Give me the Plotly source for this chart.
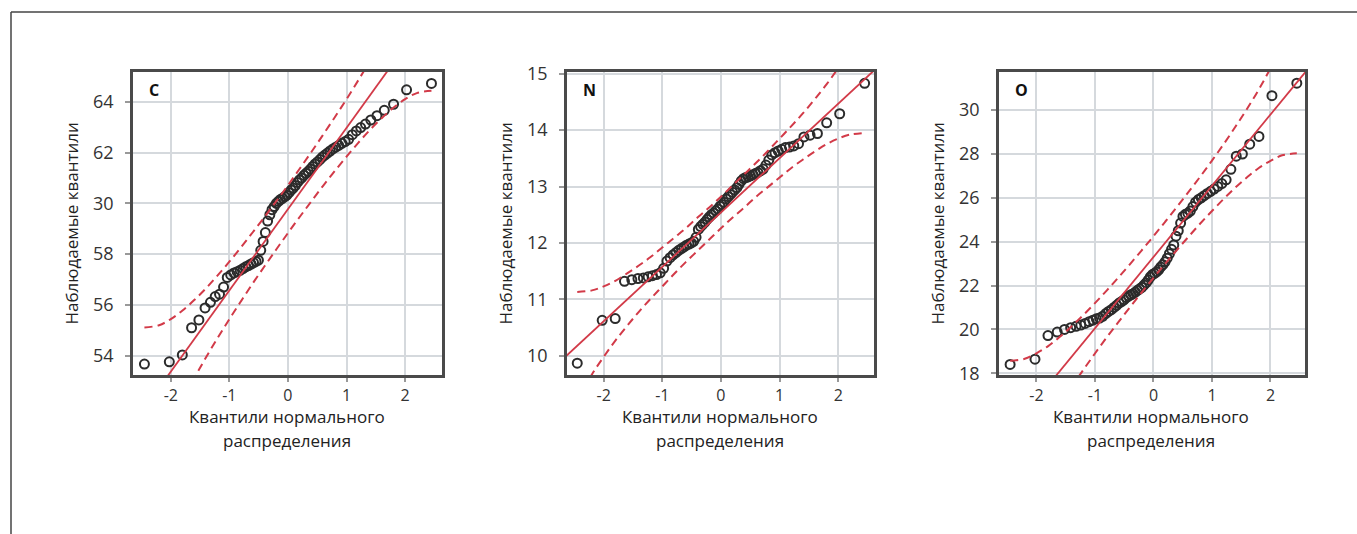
import plotly.graph_objects as go

W, H = 1357, 534

# Theoretical normal quantiles (n = 70)
q_norm = [-2.450, -2.025, -1.803, -1.645, -1.520, -1.415, -1.323, -1.242, -1.168, -1.099,
          -1.036, -0.977, -0.921, -0.867, -0.816, -0.767, -0.720, -0.674, -0.630, -0.587,
          -0.545, -0.504, -0.464, -0.424, -0.385, -0.347, -0.309, -0.272, -0.235, -0.198,
          -0.162, -0.126, -0.090, -0.054, -0.018, 0.018, 0.054, 0.090, 0.126, 0.162,
          0.198, 0.235, 0.272, 0.309, 0.347, 0.385, 0.424, 0.464, 0.504, 0.545,
          0.587, 0.630, 0.674, 0.720, 0.767, 0.816, 0.867, 0.921, 0.977, 1.036,
          1.099, 1.168, 1.242, 1.323, 1.415, 1.520, 1.645, 1.803, 2.025, 2.450]

obs_C = [53.67, 53.76, 54.03, 55.10, 55.41, 55.88, 56.10, 56.33, 56.42, 56.70,
         57.08, 57.18, 57.26, 57.31, 57.36, 57.43, 57.50, 57.55, 57.61, 57.66,
         57.71, 57.76, 58.15, 58.50, 58.85, 59.30, 59.55, 59.75, 59.87, 60.00,
         60.08, 60.15, 60.20, 60.26, 60.32, 60.42, 60.52, 60.60, 60.70, 60.82,
         60.92, 61.00, 61.10, 61.18, 61.26, 61.35, 61.45, 61.55, 61.63, 61.72,
         61.82, 61.90, 61.98, 62.06, 62.14, 62.21, 62.28, 62.36, 62.43, 62.52,
         62.70, 62.85, 62.98, 63.12, 63.28, 63.45, 63.66, 63.90, 64.47, 64.72]

obs_N = [9.87, 10.63, 10.66, 11.32, 11.35, 11.37, 11.38, 11.40, 11.42, 11.44,
         11.47, 11.55, 11.68, 11.74, 11.79, 11.83, 11.87, 11.90, 11.93, 11.96,
         11.98, 12.00, 12.03, 12.10, 12.24, 12.29, 12.33, 12.37, 12.42, 12.46,
         12.50, 12.53, 12.57, 12.60, 12.65, 12.68, 12.72, 12.78, 12.82, 12.86,
         12.90, 12.94, 12.98, 13.04, 13.10, 13.14, 13.16, 13.17, 13.19, 13.21,
         13.23, 13.25, 13.28, 13.31, 13.38, 13.47, 13.56, 13.60, 13.63, 13.66,
         13.69, 13.70, 13.72, 13.76, 13.88, 13.91, 13.94, 14.13, 14.29, 14.83]

obs_O = [18.40, 18.64, 19.72, 19.88, 20.00, 20.08, 20.14, 20.20, 20.27, 20.35,
         20.42, 20.48, 20.52, 20.60, 20.72, 20.82, 20.90, 21.00, 21.10, 21.20,
         21.27, 21.35, 21.45, 21.52, 21.58, 21.63, 21.70, 21.78, 21.85, 21.92,
         22.02, 22.12, 22.25, 22.40, 22.50, 22.56, 22.62, 22.72, 22.85, 22.95,
         23.08, 23.25, 23.45, 23.65, 23.85, 24.25, 24.50, 24.85, 25.15, 25.25,
         25.30, 25.40, 25.60, 25.80, 25.92, 26.00, 26.10, 26.20, 26.30, 26.40,
         26.52, 26.65, 26.82, 27.30, 27.90, 28.00, 28.45, 28.80, 30.66, 31.23]

# Reference lines (endpoints)
line_x = [-2.8, 2.8]
line_C = [50.81, 68.73]
line_N = [9.84, 15.24]
line_O = [14.20, 32.40]

# Confidence bands
band_x = [-2.45, -2.2, -2.0, -1.8, -1.6, -1.4, -1.2, -1.0, -0.8, -0.6, -0.4, -0.2, 0.0,
          0.2, 0.4, 0.6, 0.8, 1.0, 1.2, 1.4, 1.6, 1.8, 2.0, 2.2, 2.45]
upper_C = [55.11, 55.20, 55.44, 55.78, 56.19, 56.65, 57.16, 57.70, 58.27, 58.86, 59.46, 60.08, 60.71,
           61.36, 62.02, 62.70, 63.39, 64.10, 64.84, 65.61, 66.43, 67.30, 68.24, 69.28, 70.79]
lower_C = [48.75, 50.26, 51.30, 52.24, 53.11, 53.93, 54.70, 55.44, 56.15, 56.85, 57.52, 58.18, 58.83,
           59.46, 60.08, 60.69, 61.27, 61.84, 62.38, 62.89, 63.35, 63.76, 64.10, 64.34, 64.43]
upper_N = [11.13, 11.16, 11.23, 11.33, 11.46, 11.60, 11.75, 11.92, 12.09, 12.26, 12.45, 12.63, 12.82,
           13.02, 13.22, 13.42, 13.63, 13.85, 14.07, 14.30, 14.55, 14.81, 15.10, 15.41, 15.87]
lower_N = [9.21, 9.67, 9.98, 10.27, 10.53, 10.78, 11.01, 11.23, 11.45, 11.66, 11.86, 12.06, 12.26,
           12.45, 12.63, 12.82, 12.99, 13.16, 13.33, 13.48, 13.62, 13.75, 13.85, 13.92, 13.95]
upper_O = [18.57, 18.66, 18.91, 19.24, 19.66, 20.14, 20.65, 21.20, 21.77, 22.37, 22.98, 23.61, 24.25,
           24.91, 25.58, 26.27, 26.97, 27.70, 28.45, 29.24, 30.06, 30.94, 31.91, 32.96, 34.50]
lower_O = [12.10, 13.64, 14.69, 15.66, 16.54, 17.37, 18.15, 18.90, 19.63, 20.33, 21.02, 21.69, 22.35,
           22.99, 23.62, 24.23, 24.83, 25.40, 25.95, 26.47, 26.94, 27.36, 27.69, 27.94, 28.03]

x_ticks = [-2, -1, 0, 1, 2]
x_ticktext = ["-2", "-1", "0", "1", "2"]
yticks_C = [54, 56, 58, 60, 62, 64]
yticktext_C = ["54", "56", "58", "30", "62", "64"]
yticks_N = [10, 11, 12, 13, 14, 15]
yticktext_N = ["10", "11", "12", "13", "14", "15"]
yticks_O = [18, 20, 22, 24, 26, 28, 30]
yticktext_O = ["18", "20", "22", "24", "26", "28", "30"]

panel_labels = ["C", "N", "O"]
y_title = "Наблюдаемые квантили"
x_title_lines = ["Квантили нормального", "распределения"]

RED = "#d23a48"
PT = "#2b2b2b"
GRID = "#d5d9dd"
FONT = "Open Sans"

# panel pixel boxes: left, right, top, bottom
boxes = [(133, 442, 72, 375), (567, 874, 72, 375), (999, 1305, 72, 375)]
xranges = [[-2.645, 2.63], [-2.625, 2.61], [-2.64, 2.59]]
yranges = [[53.24, 65.17], [9.66, 15.03], [17.92, 31.74]]

def px(x):
    return x / W

def py(y):
    return 1 - y / H

fig = go.Figure()
datasets = [(obs_C, line_C, upper_C, lower_C, yticks_C, yticktext_C),
            (obs_N, line_N, upper_N, lower_N, yticks_N, yticktext_N),
            (obs_O, line_O, upper_O, lower_O, yticks_O, yticktext_O)]

annotations = []
for i, (obs, ln, up, lo, yt, ytt) in enumerate(datasets):
    k = "" if i == 0 else str(i + 1)
    xa, ya = "x" + k, "y" + k
    fig.add_trace(go.Scatter(x=q_norm, y=obs, mode="markers", xaxis=xa, yaxis=ya,
                             marker=dict(symbol="circle-open", size=9, color=PT,
                                         line=dict(width=2, color=PT)),
                             showlegend=False, cliponaxis=False))
    fig.add_trace(go.Scatter(x=line_x, y=ln, mode="lines", xaxis=xa, yaxis=ya,
                             line=dict(color=RED, width=1.8), showlegend=False))
    for b in (up, lo):
        fig.add_trace(go.Scatter(x=band_x, y=b, mode="lines", xaxis=xa, yaxis=ya,
                                 line=dict(color=RED, width=2, dash="8px,5px", shape="spline"),
                                 showlegend=False))
    l, r, t, bt = boxes[i]
    axis_common = dict(showgrid=True, gridcolor=GRID, gridwidth=2, zeroline=False,
                       showline=True, mirror=True, linecolor="#4a4a4a", linewidth=2.5,
                       ticks="outside", tickcolor="#999999", tickwidth=1.5,
                       automargin=False)
    fig.update_layout(**{
        ("xaxis" + k): dict(domain=[px(l), px(r)], range=xranges[i], tickvals=x_ticks,
                            ticktext=x_ticktext, anchor=ya, ticklen=4, ticklabelstandoff=0,
                            tickfont=dict(family=FONT, size=16, color="#333333"), **axis_common),
        ("yaxis" + k): dict(domain=[py(bt), py(t)], range=yranges[i], tickvals=yt,
                            ticktext=ytt, anchor=xa, ticklen=5, ticklabelstandoff=8,
                            tickfont=dict(family=FONT, size=18, color="#333333"), **axis_common),
    })
    annotations.append(dict(text="<b>" + panel_labels[i] + "</b>", x=px(l + 14), y=py(90),
                            xref="paper", yref="paper", xanchor="left", yanchor="middle",
                            showarrow=False, font=dict(family=FONT, size=16, color="#111111")))
    annotations.append(dict(text=y_title, x=px(l - 62), y=py((t + bt) / 2), textangle=-90,
                            xref="paper", yref="paper", xanchor="center", yanchor="middle",
                            showarrow=False, font=dict(family=FONT, size=17, color="#222222")))
    for j, line_txt in enumerate(x_title_lines):
        annotations.append(dict(text=line_txt, x=px((l + r) / 2 - 1), y=py(416 + 24 * j),
                                xref="paper", yref="paper", xanchor="center", yanchor="middle",
                                borderpad=0, showarrow=False,
                                font=dict(family=FONT, size=17, color="#222222")))

fig.update_layout(
    width=W, height=H,
    margin=dict(l=0, r=0, t=0, b=0, pad=0, autoexpand=False),
    paper_bgcolor="white", plot_bgcolor="white",
    annotations=annotations,
    shapes=[
        dict(type="line", xref="paper", yref="paper", x0=px(11), x1=1.0, y0=py(12), y1=py(12),
             line=dict(color="#444444", width=1.5)),
        dict(type="line", xref="paper", yref="paper", x0=px(11), x1=px(11), y0=py(12), y1=0,
             line=dict(color="#444444", width=1.5)),
    ],
)

fig.write_html("out.html", config={"displayModeBar": False},
               post_script="document.body.style.margin='0';document.body.style.overflow='hidden';")
